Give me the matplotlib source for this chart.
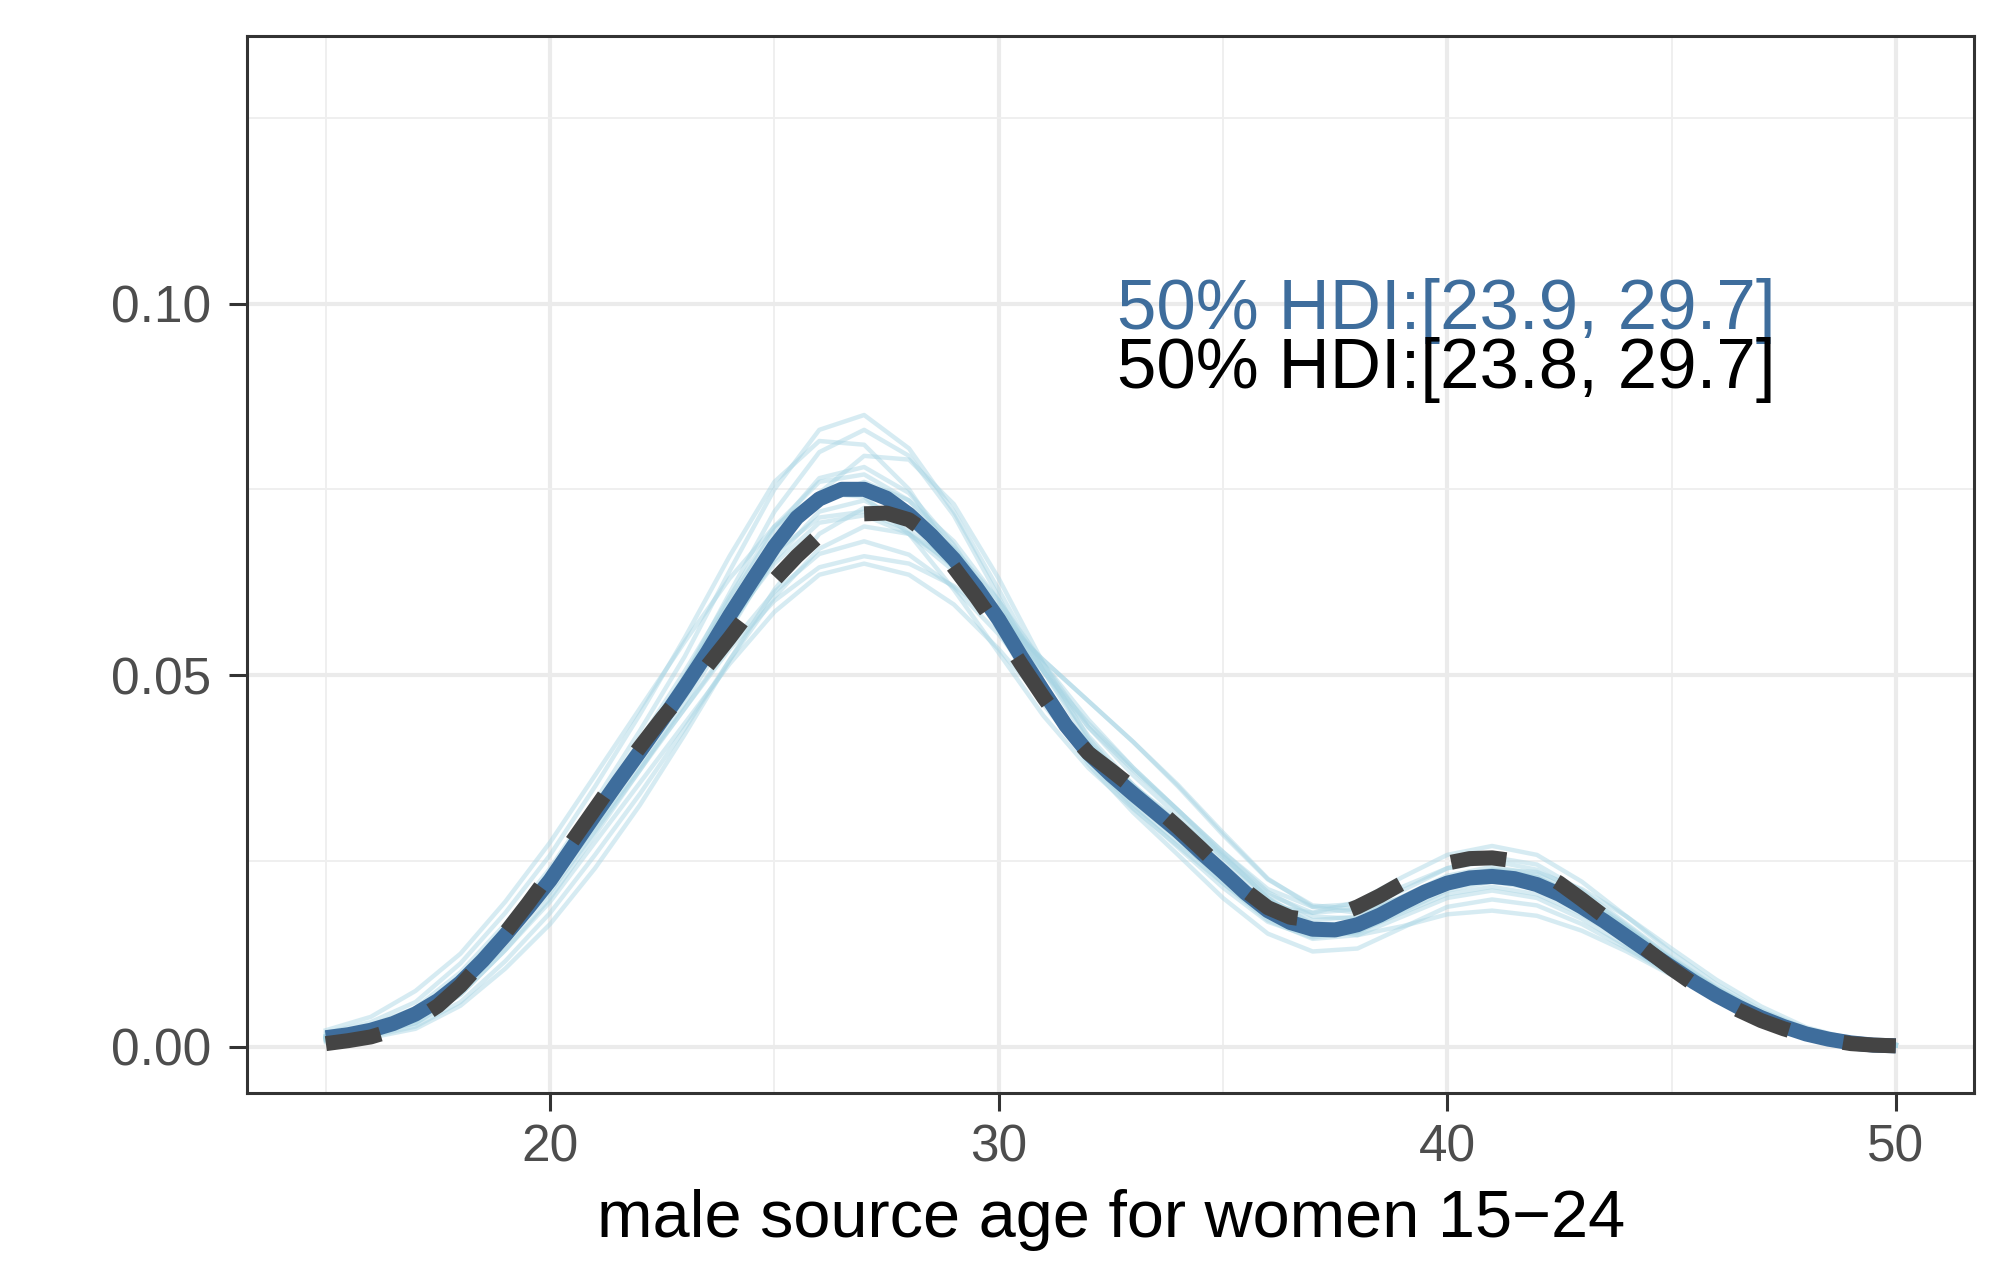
import numpy as np
import matplotlib
matplotlib.use("Agg")
import matplotlib.pyplot as plt
from matplotlib.ticker import FixedLocator, FuncFormatter

plt.rcParams["font.family"] = ["Liberation Sans", "DejaVu Sans"]

# ------------------------------------------------------------
# Data
# ------------------------------------------------------------
# posterior mean density (solid) and observed density (dashed), 0.5-yr grid
age_fine = np.arange(15, 50.01, 0.5)
mean_density = [
    0.0012, 0.0016, 0.0022, 0.0031, 0.0044, 0.0062, 0.0086, 0.0116, 0.0150, 0.0186,
    0.0224, 0.0268, 0.0312, 0.0355, 0.0397, 0.0440, 0.0484, 0.0530, 0.0580, 0.0627,
    0.0673, 0.0712, 0.0737, 0.0750, 0.0750, 0.0738, 0.0716, 0.0688, 0.0656, 0.0618,
    0.0575, 0.0525, 0.0478, 0.0432, 0.0395, 0.0366, 0.0340, 0.0315, 0.0290, 0.0262,
    0.0235, 0.0207, 0.0183, 0.0167, 0.0158, 0.0157, 0.0164, 0.0177, 0.0193, 0.0208,
    0.0220, 0.0227, 0.0229, 0.0226, 0.0218, 0.0205, 0.0188, 0.0169, 0.0148, 0.0127,
    0.0107, 0.0087, 0.0069, 0.0053, 0.0039, 0.0027, 0.0017, 0.0010, 0.0005, 0.0002,
    0.0001,
]
obs_density = [
    0.0004, 0.0008, 0.0013, 0.0022, 0.0035, 0.0055, 0.0082, 0.0115, 0.0153, 0.0192,
    0.0233, 0.0277, 0.0320, 0.0363, 0.0403, 0.0442, 0.0478, 0.0512, 0.0550, 0.0590,
    0.0628, 0.0660, 0.0688, 0.0707, 0.0717, 0.0718, 0.0709, 0.0688, 0.0645, 0.0605,
    0.0562, 0.0515, 0.0470, 0.0428, 0.0395, 0.0372, 0.0348, 0.0322, 0.0295, 0.0267,
    0.0238, 0.0210, 0.0187, 0.0174, 0.0170, 0.0176, 0.0188, 0.0203, 0.0220, 0.0236,
    0.0247, 0.0253, 0.0254, 0.0250, 0.0238, 0.0220, 0.0198, 0.0175, 0.0152, 0.0128,
    0.0105, 0.0084, 0.0065, 0.0049, 0.0035, 0.0024, 0.0015, 0.0009, 0.0004, 0.0002,
    0.0001,
]

# posterior draws (thin light lines), 1-yr grid
age_draw = np.arange(15, 51, 1)
draws = [
    [.0015, .0028, .0052, .0100, .0165, .0240, .0330, .0425, .0525, .0640, .0750, .0830,
     .0850, .0805, .0720, .0615, .0505, .0410, .0340, .0280, .0220, .0170, .0145, .0150,
     .0175, .0200, .0210, .0200, .0172, .0135, .0098, .0064, .0037, .0018, .0007, .0002],
    [.0010, .0018, .0032, .0070, .0130, .0195, .0275, .0355, .0435, .0515, .0585, .0635,
     .0650, .0635, .0595, .0535, .0465, .0400, .0350, .0305, .0255, .0205, .0180, .0185,
     .0210, .0240, .0255, .0245, .0210, .0165, .0120, .0080, .0047, .0022, .0008, .0002],
    [.0022, .0040, .0075, .0125, .0195, .0275, .0365, .0455, .0545, .0630, .0700, .0745,
     .0740, .0690, .0615, .0530, .0445, .0375, .0320, .0270, .0220, .0175, .0150, .0155,
     .0180, .0205, .0215, .0205, .0178, .0142, .0104, .0068, .0039, .0018, .0006, .0001],
    [.0006, .0012, .0024, .0055, .0105, .0165, .0240, .0325, .0420, .0520, .0615, .0690,
     .0725, .0715, .0670, .0600, .0515, .0430, .0365, .0310, .0255, .0200, .0165, .0165,
     .0190, .0218, .0232, .0225, .0197, .0158, .0116, .0077, .0044, .0021, .0008, .0002],
    [.0012, .0022, .0040, .0085, .0150, .0220, .0305, .0390, .0478, .0570, .0650, .0705,
     .0715, .0690, .0640, .0580, .0520, .0465, .0410, .0350, .0285, .0225, .0190, .0185,
     .0200, .0220, .0228, .0218, .0190, .0152, .0112, .0074, .0042, .0019, .0007, .0002],
    [.0010, .0019, .0035, .0080, .0145, .0215, .0300, .0385, .0470, .0565, .0655, .0720,
     .0735, .0705, .0645, .0565, .0470, .0385, .0325, .0275, .0228, .0190, .0180, .0195,
     .0228, .0258, .0270, .0258, .0222, .0175, .0127, .0084, .0049, .0024, .0009, .0002],
    [.0013, .0024, .0044, .0092, .0160, .0232, .0320, .0408, .0498, .0600, .0695, .0765,
     .0780, .0745, .0675, .0585, .0475, .0380, .0315, .0258, .0200, .0152, .0128, .0132,
     .0160, .0188, .0198, .0190, .0165, .0132, .0097, .0063, .0036, .0017, .0006, .0001],
    [.0009, .0017, .0031, .0070, .0130, .0200, .0285, .0372, .0462, .0560, .0660, .0745,
     .0795, .0790, .0730, .0630, .0515, .0415, .0345, .0290, .0235, .0185, .0160, .0168,
     .0198, .0226, .0238, .0228, .0198, .0156, .0113, .0074, .0042, .0020, .0007, .0002],
    [.0011, .0020, .0036, .0080, .0142, .0208, .0290, .0372, .0455, .0540, .0612, .0663,
     .0680, .0662, .0618, .0555, .0478, .0408, .0352, .0300, .0248, .0198, .0170, .0175,
     .0202, .0230, .0242, .0232, .0202, .0160, .0117, .0077, .0044, .0021, .0008, .0002],
    [.0018, .0033, .0060, .0112, .0180, .0258, .0350, .0447, .0550, .0660, .0760, .0815,
     .0810, .0750, .0660, .0560, .0460, .0385, .0330, .0280, .0228, .0180, .0155, .0160,
     .0188, .0214, .0224, .0213, .0185, .0148, .0108, .0071, .0040, .0019, .0007, .0002],
    [.0014, .0026, .0047, .0095, .0160, .0235, .0322, .0412, .0505, .0605, .0700, .0760,
     .0770, .0735, .0670, .0590, .0505, .0430, .0372, .0318, .0262, .0212, .0188, .0192,
     .0215, .0240, .0250, .0238, .0206, .0163, .0119, .0078, .0045, .0021, .0008, .0002],
    [.0008, .0014, .0027, .0060, .0115, .0180, .0258, .0340, .0428, .0520, .0605, .0670,
     .0700, .0690, .0650, .0590, .0515, .0440, .0375, .0318, .0262, .0208, .0175, .0172,
     .0195, .0222, .0236, .0228, .0200, .0160, .0118, .0078, .0045, .0021, .0008, .0002],
    [.0011, .0020, .0037, .0083, .0150, .0225, .0312, .0402, .0498, .0610, .0720, .0800,
     .0830, .0795, .0715, .0605, .0490, .0390, .0322, .0268, .0214, .0168, .0147, .0154,
     .0182, .0210, .0222, .0212, .0184, .0146, .0106, .0070, .0040, .0019, .0007, .0002],
    [.0014, .0025, .0045, .0093, .0158, .0230, .0316, .0402, .0490, .0585, .0665, .0712,
     .0720, .0695, .0645, .0580, .0505, .0435, .0375, .0318, .0258, .0200, .0160, .0150,
     .0162, .0178, .0183, .0176, .0156, .0128, .0096, .0065, .0038, .0018, .0007, .0002],
    [.0010, .0019, .0035, .0080, .0145, .0215, .0300, .0387, .0475, .0575, .0668, .0735,
     .0760, .0735, .0680, .0600, .0505, .0418, .0352, .0296, .0240, .0190, .0163, .0165,
     .0190, .0220, .0238, .0235, .0212, .0175, .0132, .0090, .0054, .0026, .0010, .0003],
    [.0012, .0022, .0040, .0085, .0148, .0215, .0295, .0375, .0455, .0535, .0600, .0645,
     .0660, .0650, .0620, .0575, .0520, .0465, .0410, .0352, .0288, .0226, .0188, .0180,
     .0195, .0216, .0226, .0218, .0192, .0155, .0115, .0076, .0044, .0020, .0008, .0002],
]

hdi_model = "50% HDI:[23.9, 29.7]"
hdi_obs = "50% HDI:[23.8, 29.7]"

x_major = [20, 30, 40, 50]
x_minor = [15, 25, 35, 45]
y_major = [0.00, 0.05, 0.10]
y_minor = [0.025, 0.075, 0.125]

BLUE = "#3E6D9C"
DARK = "#444444"
DRAW_COL = "#A6D4E3"

# ------------------------------------------------------------
# Plot
# ------------------------------------------------------------
fig = plt.figure(figsize=(10.04, 6.435), dpi=200)
ax = fig.add_axes([0.1232, 0.151, 0.860, 0.821])

for d in draws:
    ax.plot(age_draw, d, color=DRAW_COL, lw=1.6, alpha=0.45, zorder=2)

ax.plot(age_fine, mean_density, color=BLUE, lw=5.4, zorder=3,
        solid_capstyle="butt")
ax.plot(age_fine, obs_density, color=DARK, lw=5.4, zorder=4,
        linestyle=(0, (3.7, 3.7)), dash_capstyle="butt")

ax.text(32.63, 0.0966, hdi_model, color=BLUE, fontsize=25.5,
        ha="left", va="baseline", zorder=5)
ax.text(32.63, 0.0886, hdi_obs, color="black", fontsize=25.5,
        ha="left", va="baseline", zorder=5)

ax.set_xlim(13.25, 51.75)
ax.set_ylim(-0.0062, 0.136)

ax.xaxis.set_major_locator(FixedLocator(x_major))
ax.xaxis.set_minor_locator(FixedLocator(x_minor))
ax.yaxis.set_major_locator(FixedLocator(y_major))
ax.yaxis.set_minor_locator(FixedLocator(y_minor))
ax.yaxis.set_major_formatter(FuncFormatter(lambda v, p: f"{v:.2f}"))

ax.grid(which="major", color="#EBEBEB", lw=1.5, zorder=0)
ax.grid(which="minor", color="#EFEFEF", lw=0.7, zorder=0)
ax.set_axisbelow(True)

for s in ax.spines.values():
    s.set_color("#333333")
    s.set_linewidth(1.1)

ax.tick_params(which="major", length=6.5, width=1.1, color="#333333",
               labelsize=18.5, labelcolor="#4D4D4D")
ax.tick_params(which="minor", length=0)
ax.tick_params(axis="y", pad=6.5)
ax.tick_params(axis="x", pad=4.5)

ax.set_xlabel("male source age for women 15\u221224", fontsize=24,
              color="black", labelpad=6)

fig.savefig("out.png", dpi=200, facecolor="white")
